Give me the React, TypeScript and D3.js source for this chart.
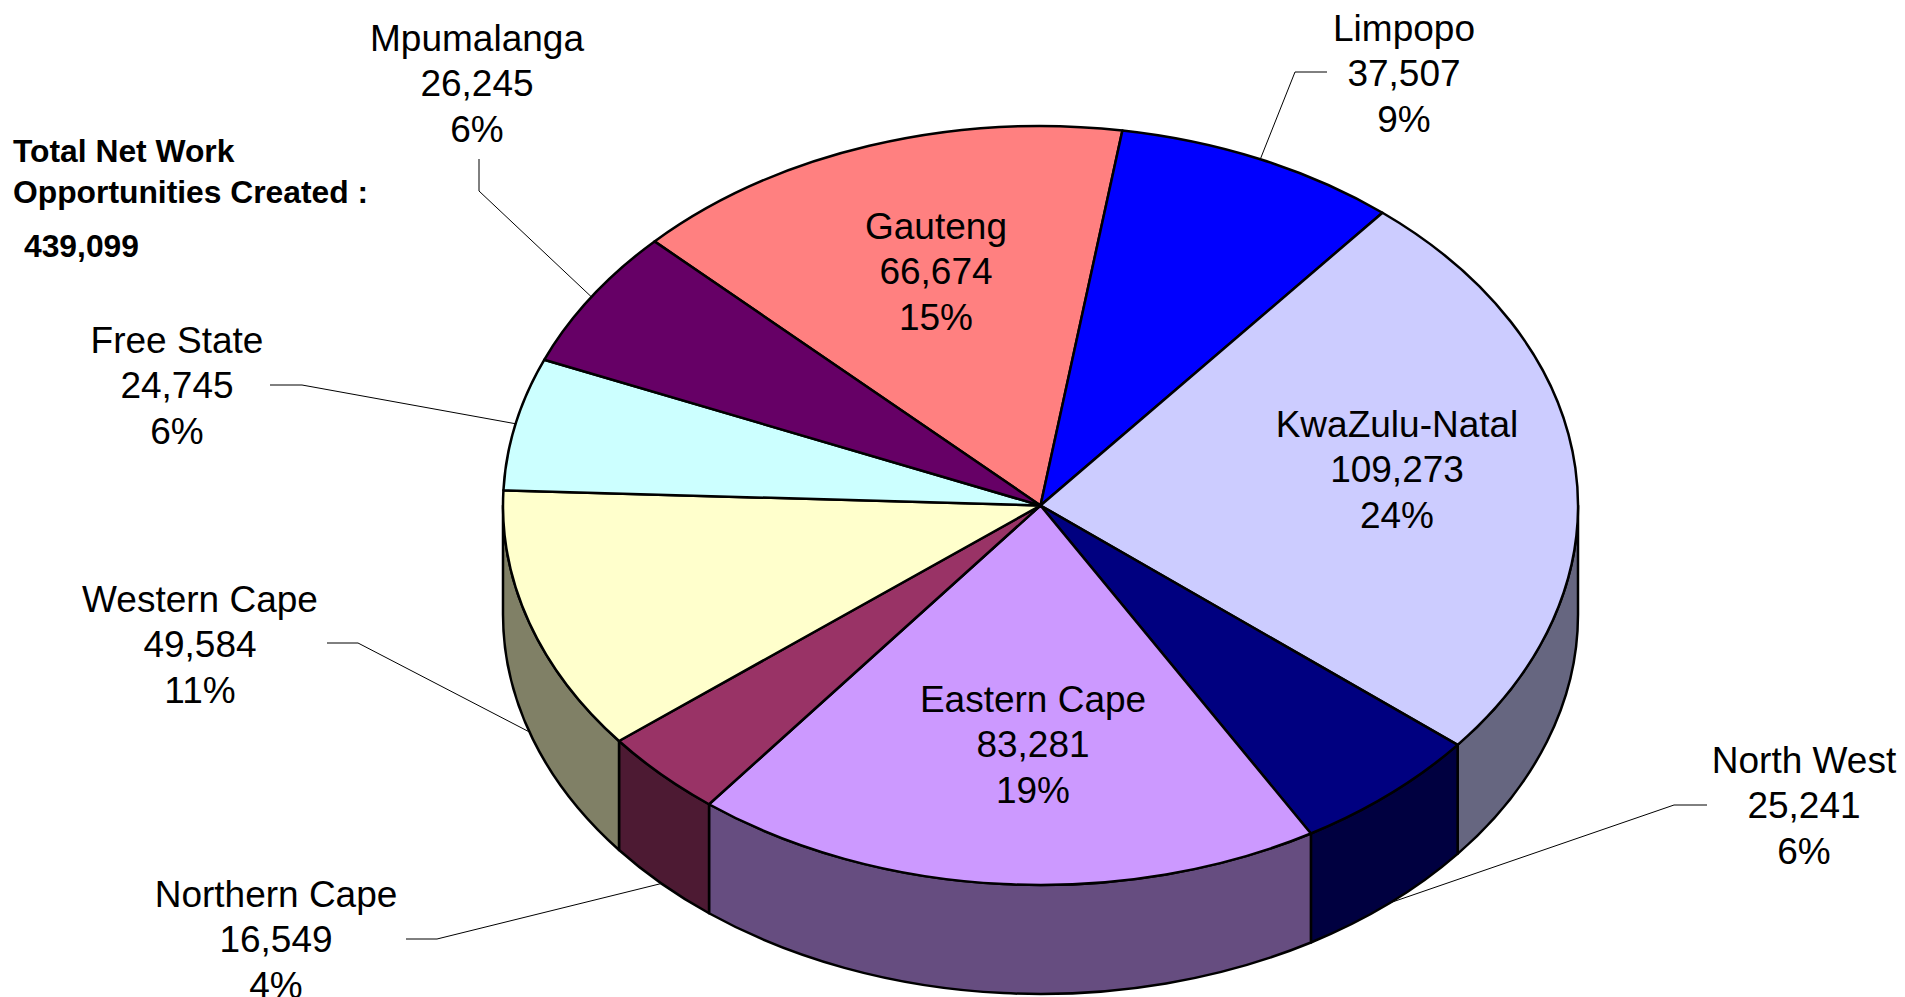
import React from "react";
import * as d3 from "d3";

// ---------- data ----------
const regions = [
  "Gauteng",
  "Limpopo",
  "KwaZulu-Natal",
  "North West",
  "Eastern Cape",
  "Northern Cape",
  "Western Cape",
  "Free State",
  "Mpumalanga",
];
const values = [66674, 37507, 109273, 25241, 83281, 16549, 49584, 24745, 26245];
const percentLabels = ["15%", "9%", "24%", "6%", "19%", "4%", "11%", "6%", "6%"];
const topColors = [
  "#FF8080",
  "#0000FF",
  "#CCCCFF",
  "#000080",
  "#CC99FF",
  "#993366",
  "#FFFFCC",
  "#CCFFFF",
  "#660066",
];
const totalTitle = ["Total Net Work", "Opportunities Created :"];

// ---------- layout ----------
const W = 1905;
const H = 997;
const CX = 1040.5;
const CY = 505.5;
const RX = 537.5;
const RY = 379.5;
const DEPTH = 109;
const START_DEG = -45.9;
const FONT = "'Liberation Sans', Arial, Helvetica, sans-serif";
const FS = 37;
const LH = 45.5;
const BFS = 31.8;

type LabelLayout = { cx: number; cy: number; leader?: [number, number][] };
const labelLayout: LabelLayout[] = [
  { cx: 936, cy: 271 },
  { cx: 1404, cy: 73, leader: [[1327, 72], [1295, 72]] },
  { cx: 1397, cy: 469 },
  { cx: 1804, cy: 805, leader: [[1707, 805], [1674, 805]] },
  { cx: 1033, cy: 744 },
  { cx: 276, cy: 939, leader: [[406, 939], [437, 939]] },
  { cx: 200, cy: 644, leader: [[327, 643], [358, 643]] },
  { cx: 177, cy: 385, leader: [[270, 385], [302, 385]] },
  { cx: 477, cy: 83, leader: [[479, 159], [479, 191]] },
];

const pt = (a: number, dy = 0): [number, number] => [
  CX + RX * Math.sin(a),
  CY - RY * Math.cos(a) + dy,
];

const topPath = (a0: number, a1: number) => {
  const [x0, y0] = pt(a0);
  const [x1, y1] = pt(a1);
  const large = a1 - a0 > Math.PI ? 1 : 0;
  return `M${CX},${CY}L${x0},${y0}A${RX},${RY} 0 ${large} 1 ${x1},${y1}Z`;
};

const wallPath = (a0: number, a1: number) => {
  const s = Math.max(a0, Math.PI / 2);
  const e = Math.min(a1, (3 * Math.PI) / 2);
  if (s >= e) return null;
  const [x0, y0] = pt(s);
  const [x1, y1] = pt(e);
  const [x2, y2] = pt(e, DEPTH);
  const [x3, y3] = pt(s, DEPTH);
  return `M${x0},${y0}A${RX},${RY} 0 0 1 ${x1},${y1}L${x2},${y2}A${RX},${RY} 0 0 0 ${x3},${y3}Z`;
};

const darken = (c: string) => {
  const r = d3.rgb(c);
  return d3.rgb(r.r * 0.5, r.g * 0.5, r.b * 0.5).formatHex();
};

export default function App() {
  const start = (START_DEG * Math.PI) / 180;
  const pie = d3
    .pie<number>()
    .sort(null)
    .value((d) => d)
    .startAngle(start)
    .endAngle(start + 2 * Math.PI);
  const arcs = pie(values);
  const fmt = d3.format(",");
  const total = d3.sum(values);

  return (
    <svg
      width={W}
      height={H}
      style={{ position: "absolute", left: 0, top: 0, background: "#fff" }}
      fontFamily={FONT}
    >
      {/* side walls */}
      {arcs.map((a, i) => {
        const p = wallPath(a.startAngle, a.endAngle);
        return p ? (
          <path
            key={"w" + i}
            d={p}
            fill={darken(topColors[i])}
            stroke="#000"
            strokeWidth={2.5}
            strokeLinejoin="round"
          />
        ) : null;
      })}
      {/* top faces */}
      {arcs.map((a, i) => (
        <path
          key={"t" + i}
          d={topPath(a.startAngle, a.endAngle)}
          fill={topColors[i]}
          stroke="#000"
          strokeWidth={2.5}
          strokeLinejoin="round"
        />
      ))}
      {/* leader lines */}
      {arcs.map((a, i) => {
        const L = labelLayout[i];
        if (!L.leader) return null;
        const m = (a.startAngle + a.endAngle) / 2;
        const [ex, ey0] = pt(m);
        const ey = Math.cos(m) < 0 ? ey0 + DEPTH : ey0;
        const pts = [...L.leader, [ex, ey]].map((p) => p.join(",")).join(" ");
        return (
          <polyline
            key={"l" + i}
            points={pts}
            fill="none"
            stroke="#000"
            strokeWidth={1}
          />
        );
      })}
      {/* labels */}
      {arcs.map((a, i) => {
        const L = labelLayout[i];
        const lines = [regions[i], fmt(values[i]), percentLabels[i]];
        return (
          <text key={"x" + i} textAnchor="middle" fontSize={FS} fill="#000">
            {lines.map((t, j) => (
              <tspan key={j} x={L.cx} y={L.cy + (j - 1) * LH + FS * 0.358}>
                {t}
              </tspan>
            ))}
          </text>
        );
      })}
      {/* total block */}
      <text fontSize={BFS} fontWeight="bold" fill="#000">
        <tspan x={13} y={151 + BFS * 0.358}>
          {totalTitle[0]}
        </tspan>
        <tspan x={13} y={192 + BFS * 0.358}>
          {totalTitle[1]}
        </tspan>
        <tspan x={24} y={246 + BFS * 0.358}>
          {fmt(total)}
        </tspan>
      </text>
    </svg>
  );
}
